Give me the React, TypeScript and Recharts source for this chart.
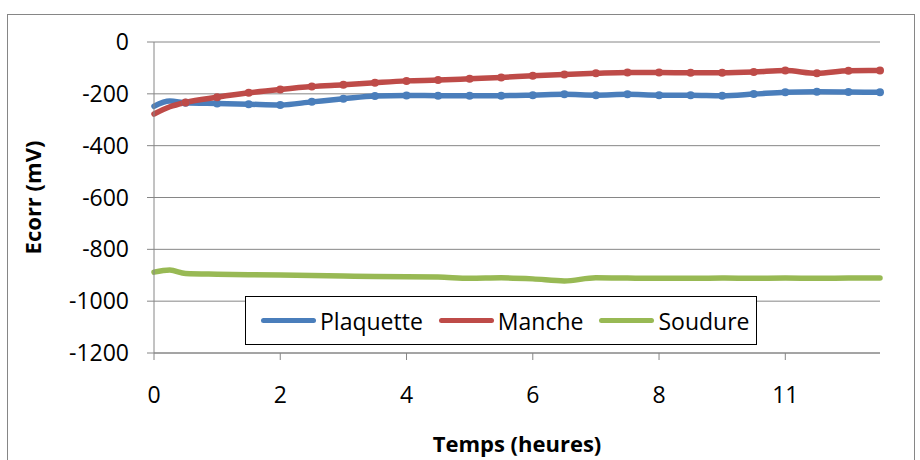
import React from "react";
import { LineChart, Line, XAxis, YAxis, CartesianGrid, Legend } from "recharts";

const HOURS = [0, 0.25, 0.5, 1, 1.5, 2, 2.5, 3, 3.5, 4, 4.5, 5, 5.5, 6, 6.5, 7, 7.5, 8, 8.5, 9, 9.5, 10, 10.5, 11, 11.5];
const PLAQUETTE = [-248, -228, -234, -237, -240, -243, -231, -219, -208, -206, -207, -207, -207, -205, -202, -205, -202, -205, -205, -207, -201, -194, -192, -193, -194];
const MANCHE = [-278, -250, -233, -213, -196, -183, -172, -165, -157, -150, -147, -142, -137, -130, -125, -121, -118, -118, -119, -119, -116, -110, -121, -111, -110];
const SOUDURE = [-888, -880, -893, -896, -898, -899, -901, -903, -905, -906, -907, -912, -910, -914, -922, -910, -911, -912, -912, -911, -912, -911, -912, -911, -911];

const X_TICKS = [0, 2, 4, 6, 8, 10];
const X_LABELS = ["0", "2", "4", "6", "8", "11"];
const Y_TICKS = [0, -200, -400, -600, -800, -1000, -1200];

const SERIES = [
  { key: "plaquette", name: "Plaquette", color: "#4A7EBB", markers: true },
  { key: "manche", name: "Manche", color: "#BE4B48", markers: true },
  { key: "soudure", name: "Soudure", color: "#98B954", markers: false },
];

const data = HOURS.map((h, i) => ({
  h,
  plaquette: PLAQUETTE[i],
  manche: MANCHE[i],
  soudure: SOUDURE[i],
}));

const GREY = "#868686";

// markers only on the half-hour points, like the original
const halfHourDot = (color: string) => (props: any) => {
  const { cx, cy, index, payload } = props;
  if (!payload || payload.h === 0 || payload.h % 0.5 !== 0) return <g key={index} />;
  return <circle key={index} cx={cx} cy={cy} r={4} fill={color} stroke="none" />;
};

const LegendBox = () => (
  <div
    style={{
      boxSizing: "border-box",
      width: 512,
      height: 49,
      border: "1.5px solid #000",
      background: "#fff",
      display: "flex",
      alignItems: "center",
      paddingLeft: 15,
      fontSize: 23,
    }}
  >
    {SERIES.map((s) => (
      <div key={s.key} style={{ display: "flex", alignItems: "center", marginRight: 16 }}>
        <span style={{ display: "inline-block", width: 55, height: 5, borderRadius: 3, background: s.color, marginRight: 4 }} />
        <span>{s.name}</span>
      </div>
    ))}
  </div>
);

export default function App() {
  return (
    <div style={{ position: "absolute", left: 0, top: 0, width: 920, height: 460, background: "#fff", fontFamily: "'Open Sans', sans-serif" }}>
      <div style={{ position: "absolute", left: 7, top: 14, width: 906, height: 460, border: `1px solid ${GREY}` }} />
      <LineChart width={920} height={460} data={data} margin={{ top: 42, right: 40, left: 0, bottom: 0 }}>
        <CartesianGrid vertical={false} stroke={GREY} strokeWidth={1} />
        <XAxis
          dataKey="h"
          type="number"
          domain={[0, 11.5]}
          ticks={X_TICKS}
          tickFormatter={(v: number) => X_LABELS[X_TICKS.indexOf(v)]}
          height={107}
          stroke={GREY}
          tickSize={7}
          tickMargin={27}
          tick={{ fontSize: 23, fill: "#000" }}
          label={{ value: "Temps (heures)", position: "insideBottom", offset: 8, fontSize: 22, fontWeight: "bold", fill: "#000" }}
        />
        <YAxis
          domain={[-1200, 0]}
          ticks={Y_TICKS}
          width={154}
          stroke={GREY}
          tickSize={7}
          tickMargin={18}
          tick={{ fontSize: 23, fill: "#000" }}
          label={{ value: "Ecorr (mV)", angle: -90, position: "insideLeft", offset: 33, fontSize: 22, fontWeight: "bold", fill: "#000", style: { textAnchor: "middle" } }}
        />
        <Legend
          layout="horizontal"
          verticalAlign="middle"
          align="center"
          content={<LegendBox />}
          wrapperStyle={{ position: "absolute", left: 245, top: 296, width: 512, height: 49 }}
        />
        {SERIES.map((s) => (
          <Line
            key={s.key}
            dataKey={s.key}
            name={s.name}
            type="monotone"
            stroke={s.color}
            strokeWidth={5.5}
            strokeLinecap="round"
            dot={s.markers ? halfHourDot(s.color) : false}
            activeDot={false}
            isAnimationActive={false}
          />
        ))}
      </LineChart>
    </div>
  );
}
